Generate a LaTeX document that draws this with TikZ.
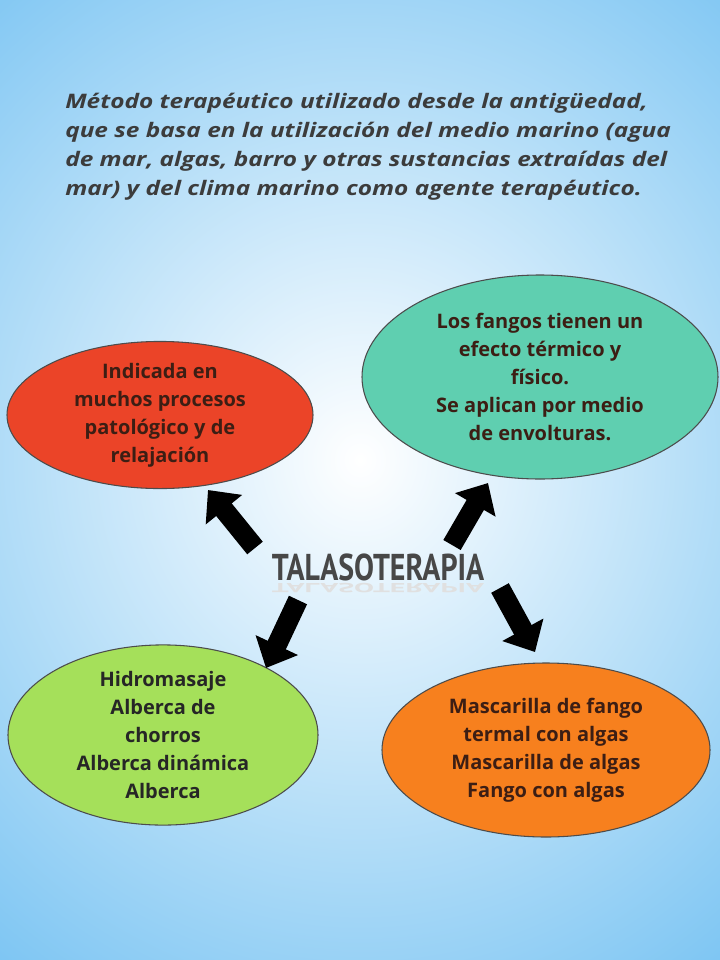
\documentclass[tikz,border=0pt]{standalone}
\usepackage{fontspec}
\setmainfont{Open Sans}
\newfontfamily\titlefont{PT Sans}
\usetikzlibrary{arrows.meta,shapes.geometric}
\definecolor{bgblue}{RGB}{120,195,242}
\definecolor{redfill}{RGB}{235,68,40}
\definecolor{tealfill}{RGB}{95,207,176}
\definecolor{greenfill}{RGB}{165,224,90}
\definecolor{orangefill}{RGB}{247,128,30}
\definecolor{txtdark}{RGB}{60,60,60}
\definecolor{bodytxt}{RGB}{60,30,20}
\begin{document}
\begin{tikzpicture}[x=0.75pt,y=-0.75pt,
  oval/.style={ellipse,draw=black!70,line width=0.8pt,align=center,inner sep=0pt,
    font=\fontsize{15}{21}\selectfont\bfseries,text=bodytxt},
  blockarrow/.style={line width=15pt,-{Triangle[length=19pt,width=34pt]},black}]
\useasboundingbox (0,0) rectangle (720,960);
\begin{scope}
\clip (0,0) rectangle (720,960);
\fill[inner color=white,outer color=bgblue] (-260,-200) rectangle (980,1120);
\end{scope}
\node[anchor=north west,inner sep=0pt,text=txtdark,font=\fontsize{15}{21.8}\selectfont\bfseries\itshape] (intro) at (65,88)
 {\scalebox{1.22}[1]{\begin{tabular}{@{}l@{}}Método terapéutico utilizado desde la antigüedad,\\
  que se basa en la utilización del medio marino (agua\\
  de mar, algas, barro y otras sustancias extraídas del\\
  mar) y del clima marino como agente terapéutico.\end{tabular}}};
\node[oval,fill=redfill,minimum width=306pt*0.75,minimum height=144pt*0.75] (red) at (160,415)
 {Indicada en\\muchos procesos\\patológico y de\\relajación};
\node[oval,fill=tealfill,minimum width=356pt*0.75,minimum height=204pt*0.75] (teal) at (540,377)
 {Los fangos tienen un\\efecto térmico y\\físico.\\Se aplican por medio\\de envolturas.};
\node[oval,fill=greenfill,minimum width=310pt*0.75,minimum height=180pt*0.75,text=black!85] (green) at (163,735)
 {Hidromasaje\\Alberca de\\chorros\\Alberca dinámica\\Alberca};
\node[oval,fill=orangefill,minimum width=328pt*0.75,minimum height=174pt*0.75] (orange) at (546,750)
 {Mascarilla de fango\\termal con algas\\Mascarilla de algas\\Fango con algas};
\node[text=black!72,font=\titlefont\bfseries\fontsize{28}{30}\selectfont] (center) at (378,567)
 {\scalebox{0.80}[1]{TALASOTERAPIA}};
\node[text=black!12,font=\titlefont\bfseries\fontsize{28}{30}\selectfont,yscale=-0.35] (refl) at (378,588)
 {\scalebox{0.80}[1]{TALASOTERAPIA}};
\coordinate (a1s) at (255,548); \coordinate (a1e) at (208,490);
\coordinate (a2s) at (452,545); \coordinate (a2e) at (488,483);
\coordinate (a3s) at (298,600); \coordinate (a3e) at (266,668);
\coordinate (a4s) at (500,588); \coordinate (a4e) at (535,652);
\draw[blockarrow] (a1s) -- (a1e);
\draw[blockarrow] (a2s) -- (a2e);
\draw[blockarrow] (a3s) -- (a3e);
\draw[blockarrow] (a4s) -- (a4e);
\end{tikzpicture}
\end{document}
